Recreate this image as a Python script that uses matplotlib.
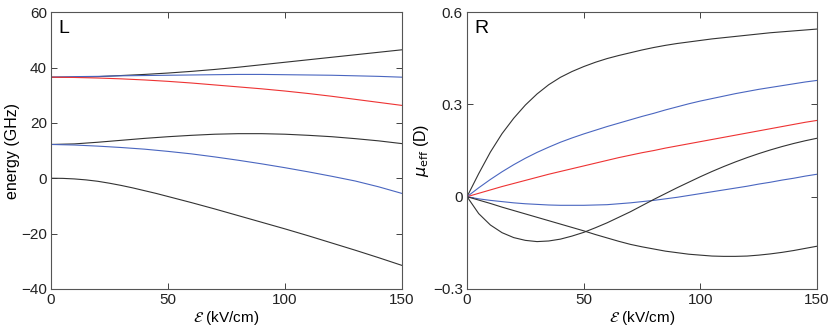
import matplotlib
matplotlib.use("Agg")
import matplotlib.pyplot as plt

plt.rcParams['font.family'] = ['Liberation Sans', 'DejaVu Sans']
plt.rcParams['mathtext.fontset'] = 'dejavusans'

# campo electrico (kV/cm)
campo = [0, 10, 20, 30, 40, 50, 60, 70, 80, 90, 100, 110, 120, 130, 140, 150]
campo_fino = [0, 5, 10, 15, 20, 25, 30, 35, 40, 45, 50, 55, 60, 65, 70, 75,
              80, 85, 90, 95, 100, 105, 110, 115, 120, 125, 130, 135, 140, 145, 150]

# panel L: energias (GHz)
e_negro_alto = [36.5, 36.5, 36.7, 37.1, 37.5, 38.0, 38.6, 39.3, 40.1, 41.0, 41.9, 42.8, 43.7, 44.6, 45.5, 46.4]
e_azul_alto = [36.5, 36.7, 36.8, 37.0, 37.1, 37.2, 37.3, 37.4, 37.5, 37.5, 37.4, 37.3, 37.2, 37.0, 36.8, 36.5]
e_rojo = [36.5, 36.4, 36.2, 35.9, 35.5, 35.0, 34.4, 33.7, 33.0, 32.3, 31.5, 30.6, 29.6, 28.5, 27.4, 26.3]
e_negro_medio = [12.2, 12.4, 13.0, 13.7, 14.4, 15.0, 15.5, 15.9, 16.1, 16.1, 15.9, 15.5, 15.0, 14.3, 13.5, 12.5]
e_azul_bajo = [12.2, 12.0, 11.6, 11.1, 10.5, 9.7, 8.8, 7.7, 6.5, 5.2, 3.8, 2.3, 0.7, -1.0, -3.1, -5.5]
e_negro_bajo = [0.0, -0.05, -0.25, -0.6, -1.1, -1.8, -2.6, -3.5, -4.5, -5.5, -6.6, -7.7, -8.8, -9.95, -11.1, -12.3,
                -13.5, -14.7, -15.9, -17.1, -18.3, -19.55, -20.8, -22.1, -23.4, -24.7, -26.0, -27.35, -28.7, -30.1, -31.5]

# panel R: momento dipolar efectivo (D)
mu_negro_alto = [0.0, 0.075, 0.145, 0.205, 0.255, 0.298, 0.334, 0.364, 0.388, 0.407, 0.423, 0.437, 0.449, 0.459, 0.468, 0.477,
                 0.485, 0.492, 0.498, 0.503, 0.508, 0.513, 0.517, 0.521, 0.525, 0.529, 0.533, 0.536, 0.539, 0.542, 0.545]
mu_azul_alto = [0.0, 0.029, 0.056, 0.081, 0.104, 0.125, 0.144, 0.161, 0.177, 0.191, 0.204, 0.216, 0.228, 0.239, 0.250, 0.261,
                0.271, 0.282, 0.292, 0.302, 0.311, 0.319, 0.327, 0.335, 0.342, 0.349, 0.355, 0.361, 0.367, 0.373, 0.378]
mu_rojo = [0.0, 0.011, 0.022, 0.033, 0.043, 0.053, 0.063, 0.073, 0.082, 0.091, 0.100, 0.109, 0.118, 0.127, 0.135, 0.143,
           0.150, 0.158, 0.165, 0.172, 0.179, 0.186, 0.193, 0.200, 0.207, 0.214, 0.221, 0.228, 0.235, 0.242, 0.248]
mu_azul_bajo = [0.0, -0.007, -0.012, -0.016, -0.020, -0.023, -0.025, -0.027, -0.028, -0.028, -0.028, -0.027, -0.026, -0.023, -0.020, -0.016,
                -0.012, -0.007, -0.002, 0.004, 0.010, 0.016, 0.022, 0.028, 0.034, 0.041, 0.047, 0.054, 0.060, 0.067, 0.073]
mu_negro_dip = [0.0, -0.055, -0.092, -0.117, -0.133, -0.142, -0.146, -0.144, -0.138, -0.128, -0.116, -0.101, -0.085, -0.067, -0.049, -0.029,
                -0.009, 0.010, 0.029, 0.047, 0.065, 0.082, 0.098, 0.113, 0.127, 0.140, 0.152, 0.163, 0.173, 0.182, 0.190]
mu_negro_bajo = [0.0, -0.011, -0.022, -0.034, -0.045, -0.056, -0.067, -0.078, -0.089, -0.100, -0.111, -0.123, -0.134, -0.145, -0.155, -0.163,
                 -0.170, -0.177, -0.182, -0.187, -0.190, -0.193, -0.194, -0.194, -0.193, -0.190, -0.186, -0.181, -0.175, -0.168, -0.161]

negro = '#333333'
azul = '#4a66c0'
rojo = '#ee3333'

fig = plt.figure(figsize=(8.3, 3.28), dpi=100)
axL = fig.add_axes([0.0614, 0.119, 0.423, 0.844])
axR = fig.add_axes([0.5627, 0.119, 0.4217, 0.844])

lw = 0.8
for x, serie, c in [(campo, e_negro_alto, negro), (campo, e_azul_alto, azul), (campo, e_rojo, rojo),
                    (campo, e_negro_medio, negro), (campo, e_azul_bajo, azul), (campo_fino, e_negro_bajo, negro)]:
    axL.plot(x, serie, color=c, lw=lw)

for serie, c in [(mu_negro_alto, negro), (mu_azul_alto, azul), (mu_rojo, rojo),
                 (mu_azul_bajo, azul), (mu_negro_dip, negro), (mu_negro_bajo, negro)]:
    axR.plot(campo_fino, serie, color=c, lw=lw)

axL.set_xlim(0, 150)
axL.set_ylim(-40, 60)
axL.set_xticks([0, 50, 100, 150])
axL.set_yticks([-40, -20, 0, 20, 40, 60])
axL.set_ylabel('energy (GHz)', fontsize=11.5, labelpad=1)
axL.text(0.02, 0.97, 'L', transform=axL.transAxes, fontsize=14, va='top', ha='left')

axR.set_xlim(0, 150)
axR.set_ylim(-0.3, 0.6)
axR.set_xticks([0, 50, 100, 150])
axR.set_yticks([-0.3, 0, 0.3, 0.6])
axR.set_yticklabels(['\u22120.3', '0', '0.3', '0.6'])
axR.set_ylabel(r'$\mu_{\mathrm{eff}}$ (D)', fontsize=11.5, labelpad=1)
axR.text(0.02, 0.97, 'R', transform=axR.transAxes, fontsize=14, va='top', ha='left')

for ax in (axL, axR):
    ax.set_xlabel(r'$\mathcal{E}$ (kV/cm)', fontsize=11, labelpad=1)
    ax.tick_params(direction='in', top=True, right=True, length=4, width=0.6,
                   labelsize=11, colors='#222222', pad=3)
    for s in ax.spines.values():
        s.set_linewidth(0.8)
        s.set_color('#555555')

fig.savefig('out.png', dpi=100)
